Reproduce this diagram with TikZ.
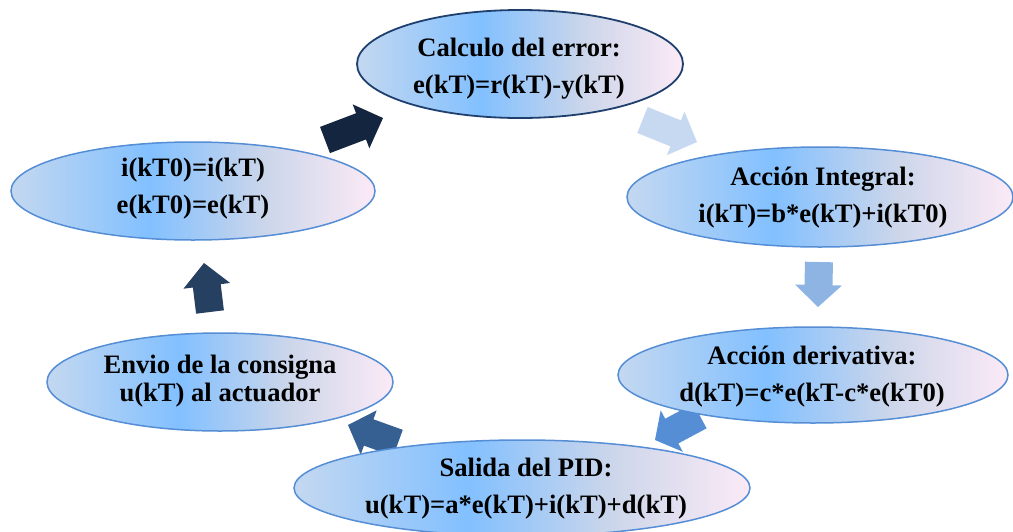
\documentclass[tikz,border=0pt]{standalone}
\usepackage{fontspec}
\setmainfont{Liberation Serif}
\usetikzlibrary{calc,shapes.geometric}
\definecolor{sL}{RGB}{196,216,240}
\definecolor{sM}{RGB}{130,192,255}
\definecolor{sG}{RGB}{204,214,234}
\definecolor{sR}{RGB}{252,234,246}
\definecolor{eB}{RGB}{85,142,213}
\definecolor{eD}{RGB}{31,64,110}
\definecolor{aA}{RGB}{198,217,241}
\definecolor{aB}{RGB}{142,180,227}
\definecolor{aC}{RGB}{85,142,213}
\definecolor{aD}{RGB}{54,96,146}
\definecolor{aE}{RGB}{37,64,97}
\definecolor{aF}{RGB}{20,38,63}
\pgfdeclarehorizontalshading{ellfill}{100bp}{color(0bp)=(sL); color(25bp)=(sL); color(44bp)=(sM); color(60bp)=(sG); color(75bp)=(sR); color(100bp)=(sR)}
\newcommand{\blockarrow}[4]{%
  \coordinate (#1-b) at ($(#2)!#4!(#1)$);
  \fill[#3] ($(#1)!14pt!90:(#2)$) -- ($(#1-b)!14pt!90:(#2)$) -- ($(#1-b)!23.5pt!90:(#2)$) -- (#2)
    -- ($(#1-b)!23.5pt!-90:(#2)$) -- ($(#1-b)!14pt!-90:(#2)$) -- ($(#1)!14pt!-90:(#2)$) -- cycle;}
\tikzset{
  ell/.style={ellipse, draw=eB, line width=1.5pt, shade, shading=ellfill, inner sep=0pt},
  txt/.style={align=center, font=\fontsize{26.6pt}{37pt}\selectfont\bfseries, inner sep=0pt},
}
\begin{document}
\begin{tikzpicture}[x=1pt,y=-1pt]
\useasboundingbox (0,0) rectangle (1013,531);
\begin{scope}
\clip (0,0) rectangle (1013,531);
% arrows
\coordinate (a1t) at (642.5,120); \coordinate (a1p) at (697,142);
\coordinate (a2t) at (819,262); \coordinate (a2p) at (818,307);
\coordinate (a3t) at (700,416); \coordinate (a3p) at (655,440);
\coordinate (a4t) at (398,443); \coordinate (a4p) at (348,425);
\coordinate (a5t) at (210,312); \coordinate (a5p) at (204,263);
\coordinate (a6t) at (325,140); \coordinate (a6p) at (383,118);
\blockarrow{a1t}{a1p}{aA}{23pt}
\blockarrow{a2t}{a2p}{aB}{22pt}
\blockarrow{a3t}{a3p}{aC}{19pt}
\blockarrow{a4t}{a4p}{aD}{22pt}
\blockarrow{a5t}{a5p}{aE}{23pt}
\blockarrow{a6t}{a6p}{aF}{23.5pt}
% ellipses
\node[ell, draw=eD, line width=1.8pt, minimum width=326pt, minimum height=108pt] (e1) at (520,64) {};
\node[ell, minimum width=386pt, minimum height=100pt] (e2) at (820,197) {};
\node[ell, minimum width=390pt, minimum height=96pt] (e3) at (813,375) {};
\node[ell, minimum width=456pt, minimum height=96pt] (e4) at (522,488) {};
\node[ell, minimum width=346pt, minimum height=98pt] (e5) at (220,382) {};
\node[ell, minimum width=364pt, minimum height=98pt] (e6) at (193,191) {};
\end{scope}
% texts
\node[txt] (t1) at (519,68.5) {Calculo del error:\\e(kT)=r(kT)-y(kT)};
\node[txt] (t2) at (823,197.5) {Acción Integral:\\i(kT)=b*e(kT)+i(kT0)};
\node[txt] (t3) at (812,377) {Acción derivativa:\\d(kT)=c*e(kT-c*e(kT0)};
\node[txt] (t4) at (526,489) {Salida del PID:\\u(kT)=a*e(kT)+i(kT)+d(kT)};
\node[txt, font=\fontsize{26.6pt}{28pt}\selectfont\bfseries] (t5) at (220,381) {Envio de la consigna\\u(kT) al actuador};
\node[txt] (t6) at (193,189) {i(kT0)=i(kT)\\e(kT0)=e(kT)};
\end{tikzpicture}
\end{document}
